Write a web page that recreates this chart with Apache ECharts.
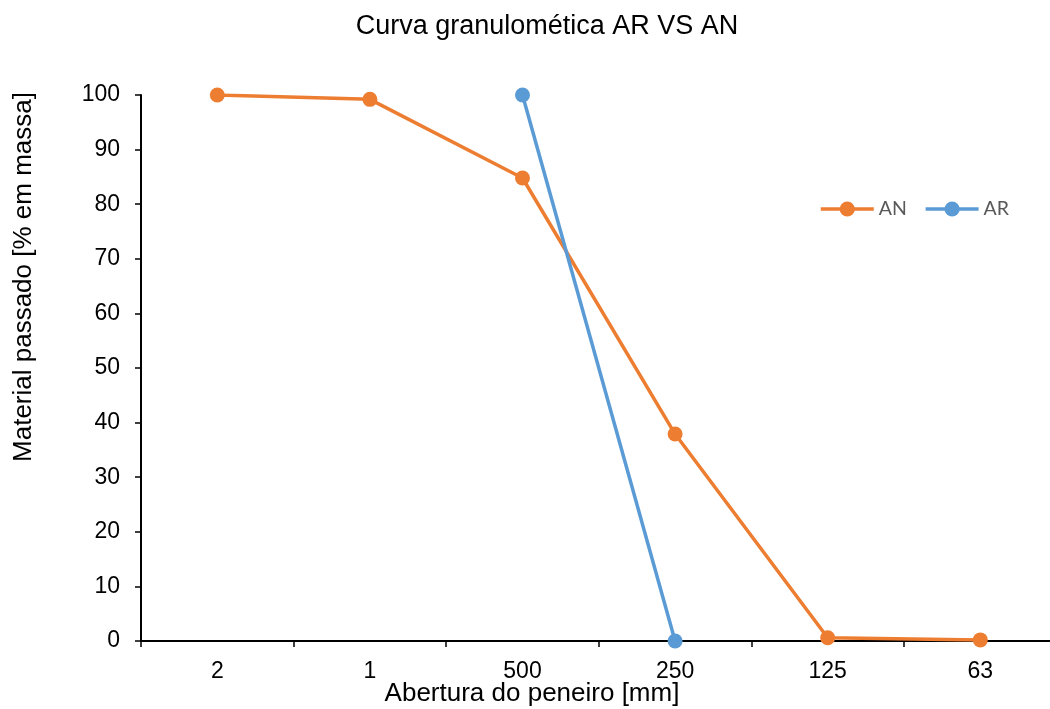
<!DOCTYPE html>
<html><head><meta charset="utf-8">
<script src="https://cdn.jsdelivr.net/npm/echarts@6/dist/echarts.min.js"></script>
<style>html,body{margin:0;padding:0;background:#fff}#c{width:1050px;height:709px}</style>
</head><body><div id="c"></div>
<script>
const categories = ['2', '1', '500', '250', '125', '63'];
const anValues = [100, 99.2, 84.8, 37.9, 0.6, 0.2];
const arValues = [null, null, 100, 0, null, null];
const yTicks = [0, 10, 20, 30, 40, 50, 60, 70, 80, 90, 100];

const chart = echarts.init(document.getElementById('c'), null, {renderer: 'canvas'});
const font = 'Liberation Sans, Arial, sans-serif';
chart.setOption({
  animation: false,
  backgroundColor: '#ffffff',
  title: [
    {text: 'Curva granulomética AR VS AN', left: 547, top: 13, textAlign: 'center', padding: 0,
     textStyle: {fontFamily: font, fontSize: 27, fontWeight: 'normal', color: '#000'}},
    {text: 'Abertura do peneiro [mm]', left: 532, top: 681, textAlign: 'center', padding: 0,
     textStyle: {fontFamily: font, fontSize: 26, fontWeight: 'normal', color: '#000'}}
  ],
  graphic: [{
    type: 'text', x: 24, y: 277, rotation: Math.PI / 2,
    style: {text: 'Material passado [% em massa]', font: '26px ' + font, fill: '#000',
            textAlign: 'center', textVerticalAlign: 'middle'}
  }],
  legend: {
    left: 814, top: 194, itemWidth: 53, itemHeight: 19, itemGap: 17,
    data: ['AN', 'AR'],
    lineStyle: {width: 3.5},
    textStyle: {fontFamily: 'Lato, sans-serif', fontSize: 19.5, color: '#595959'}
  },
  grid: {left: 141, top: 95, width: 915.6, bottom: 68, containLabel: false, outerBoundsMode: 'none'},
  xAxis: {
    type: 'category', data: categories, boundaryGap: true,
    axisLine: {show: true, lineStyle: {color: '#000', width: 2}},
    axisTick: {show: true, inside: false, length: 6, lineStyle: {color: '#000', width: 1.5}},
    axisLabel: {fontFamily: font, fontSize: 23, color: '#000', margin: 19},
    splitLine: {show: false}
  },
  yAxis: {
    type: 'value', min: 0, max: 100, interval: 10,
    axisLine: {show: true, lineStyle: {color: '#000', width: 2}},
    axisTick: {show: true, inside: false, length: 6, lineStyle: {color: '#000', width: 1.5}},
    axisLabel: {fontFamily: font, fontSize: 23, color: '#000', margin: 21,
      formatter: v => yTicks.includes(v) ? String(v) : ''},
    splitLine: {show: false}
  },
  series: [
    {name: 'AN', type: 'line', data: anValues, symbol: 'circle', symbolSize: 15,
     itemStyle: {color: '#ED7D31'}, lineStyle: {color: '#ED7D31', width: 3.5}, z: 2},
    {name: 'AR', type: 'line', data: arValues, symbol: 'circle', symbolSize: 15,
     connectNulls: false,
     itemStyle: {color: '#5B9BD5'}, lineStyle: {color: '#5B9BD5', width: 3.5}, z: 3}
  ]
});
</script></body></html>
